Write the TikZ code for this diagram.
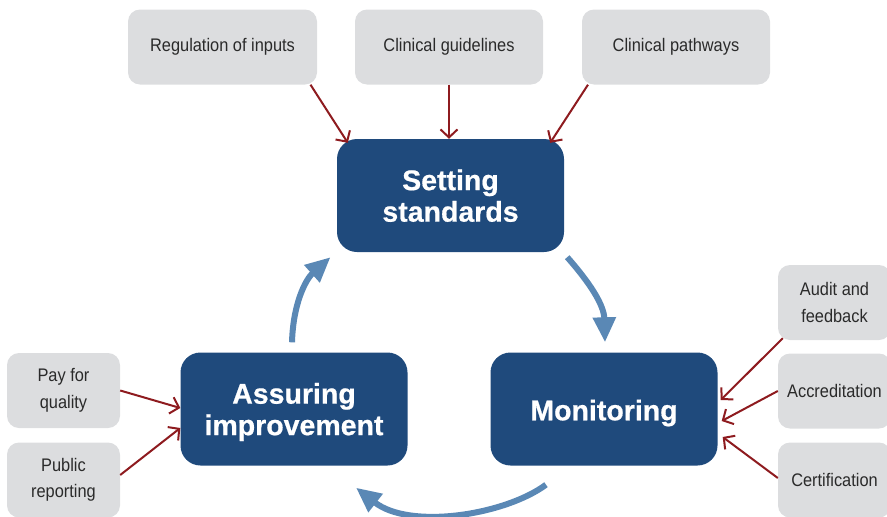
\documentclass[tikz,border=0pt]{standalone}
\usepackage{fontspec}
\setmainfont{Liberation Sans}
\newfontfamily\condfont[FakeStretch=0.9]{Liberation Sans}
\newfontfamily\heavyfont[FakeBold=0.6]{Liberation Sans Bold}
\usetikzlibrary{arrows.meta,calc}
\definecolor{navy}{HTML}{1F4A7C}
\definecolor{graybox}{HTML}{DCDDDF}
\definecolor{redline}{HTML}{8E1B1F}
\definecolor{steel}{HTML}{5A88B5}
\definecolor{graytext}{HTML}{2A2A2A}
\newcommand{\lowertext}[1]{\raisebox{-4pt}[\height][\depth]{#1}}
\begin{document}
\begin{tikzpicture}[x=1pt,y=-1pt,
  bluebox/.style={draw=none,fill=navy,rounded corners=20pt,minimum width=227pt,minimum height=113pt,
    inner sep=0pt,align=center,text=white,font=\heavyfont\fontsize{28.5}{32}\selectfont},
  graynode/.style={draw=none,fill=graybox,rounded corners=12pt,minimum height=75pt,
    inner sep=0pt,align=center,text=graytext,font=\condfont\fontsize{18.2}{26.5}\selectfont},
  redarrow/.style={draw=redline,line width=2pt,-{Straight Barb[length=8pt,width=17pt,line width=2pt]}},
  bluearrow/.style={draw=steel,line width=6pt,-{Triangle[length=25pt,width=22pt]}}]
\useasboundingbox (0,0) rectangle (887,517);
% main boxes
\node[bluebox] (set) at (450.5,195.5) {\lowertext{\begin{tabular}{@{}c@{}}Setting\\[-0.5pt]standards\end{tabular}}};
\node[bluebox] (mon) at (604,409) {\lowertext{Monitoring}};
\node[bluebox] (ass) at (294,409) {\lowertext{\begin{tabular}{@{}c@{}}Assuring\\[-0.5pt]improvement\end{tabular}}};
% top gray
\node[graynode,minimum width=189pt] (reg) at (222.5,47) {Regulation of inputs};
\node[graynode,minimum width=188pt] (cg) at (449,47) {Clinical guidelines};
\node[graynode,minimum width=188pt] (cp) at (676,47) {Clinical pathways};
% right gray
\node[graynode,minimum width=113pt] (aud) at (834.5,302.5) {Audit and\\feedback};
\node[graynode,minimum width=113pt] (acc) at (834.5,391) {Accreditation};
\node[graynode,minimum width=113pt] (cer) at (834.5,480) {Certification};
% left gray
\node[graynode,minimum width=113pt] (pay) at (63.5,390.5) {Pay for\\quality};
\node[graynode,minimum width=113pt] (pub) at (63.5,480) {Public\\reporting};
% red arrows
\draw[redarrow] ($(reg.south)+(88,0)$) -- ($(set.north west)+(11,4)$);
\draw[redarrow] (cg.south) -- (cg.south |- set.north);
\draw[redarrow] ($(cp.south)+(-88,0)$) -- ($(set.north east)+(-14,4)$);
\draw[redarrow] ($(aud.south west)+(5,-2)$) -- ($(mon.east)+(3,-9)$);
\draw[redarrow] (acc.west) -- ($(mon.east)+(4,12)$);
\draw[redarrow] ($(cer.west)+(0,-2)$) -- ($(mon.east)+(5,28)$);
\draw[redarrow] (pay.east) -- ($(ass.west)+(0,-1)$);
\draw[redarrow] ($(pub.east)+(0,-5)$) -- ($(ass.west)+(0,19)$);
% blue cycle arrows
\coordinate (s1) at ($(set.south east)+(3,5)$);
\coordinate (e1) at ($(mon.north)+(1,-10)$);
\draw[bluearrow] (s1) .. controls (590,283) and (604,305) .. (e1);
\coordinate (s2) at ($(mon.south)+(-58,19)$);
\coordinate (e2) at ($(ass.south)+(62,22)$);
\draw[bluearrow] (s2) .. controls (505,515) and (410,530) .. (e2);
\coordinate (s3) at ($(ass.north)+(-2,-10)$);
\coordinate (e3) at ($(set.south)+(-120,5)$);
\draw[bluearrow] (s3) .. controls (293,305) and (305,280) .. (e3);
\end{tikzpicture}
\end{document}
